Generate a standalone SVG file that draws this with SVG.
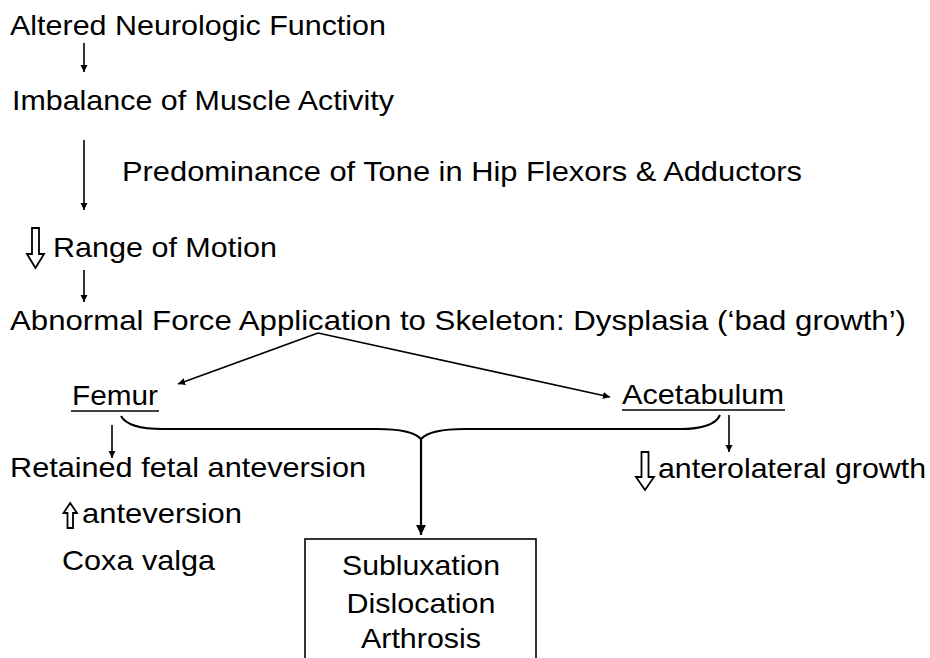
<svg xmlns="http://www.w3.org/2000/svg" width="930" height="658" viewBox="0 0 930 658">
<style>
text{font-family:"Liberation Sans",Arial,sans-serif;font-size:28px;fill:#000}
.c{text-anchor:middle}
.ln{stroke:#000;stroke-width:1.6;fill:none}
.hol{fill:#fff;stroke:#000;stroke-width:1.8;stroke-linejoin:miter}
</style>
<defs>
<marker id="ah" viewBox="0 0 10 10" refX="10" refY="5" markerWidth="4.5" markerHeight="4.5" orient="auto" markerUnits="strokeWidth">
<path d="M0,0 L10,5 L0,10 z" fill="#000"/>
</marker>
</defs>
<rect width="930" height="658" fill="#fff"/>
<g id="n1"><text x="10" y="35" textLength="376" lengthAdjust="spacingAndGlyphs">Altered Neurologic Function</text></g>
<g id="n2"><text x="12" y="110" textLength="382" lengthAdjust="spacingAndGlyphs">Imbalance of Muscle Activity</text></g>
<g id="n3"><text x="122" y="181" textLength="680" lengthAdjust="spacingAndGlyphs">Predominance of Tone in Hip Flexors &amp; Adductors</text></g>
<g id="n4">
<path class="hol" d="M32,228 H39 V254 H44 L35.5,268 L27,254 H32 Z"/>
<text x="53" y="257" textLength="224" lengthAdjust="spacingAndGlyphs">Range of Motion</text>
</g>
<g id="n5"><text x="10" y="330" textLength="896" lengthAdjust="spacingAndGlyphs">Abnormal Force Application to Skeleton: Dysplasia (‘bad growth’)</text></g>
<g id="femur">
<text x="72" y="405" textLength="86" lengthAdjust="spacingAndGlyphs">Femur</text>
<line x1="71" y1="411" x2="159" y2="411" stroke="#000" stroke-width="1.6"/>
</g>
<g id="acetabulum">
<text x="622" y="404" textLength="162" lengthAdjust="spacingAndGlyphs">Acetabulum</text>
<line x1="622" y1="410" x2="785" y2="410" stroke="#000" stroke-width="1.6"/>
</g>
<g id="retained"><text x="10" y="477" textLength="356" lengthAdjust="spacingAndGlyphs">Retained fetal anteversion</text></g>
<g id="anteversion">
<path class="hol" d="M67.5,528 H73 V513 H77 L70.2,503 L63.5,513 H67.5 Z"/>
<text x="82" y="523" textLength="160" lengthAdjust="spacingAndGlyphs">anteversion</text>
</g>
<g id="coxa"><text x="62" y="570" textLength="153" lengthAdjust="spacingAndGlyphs">Coxa valga</text></g>
<g id="anterolateral">
<path class="hol" d="M641.5,452 H648.5 V477 H654 L645,490 L636,477 H641.5 Z"/>
<text x="658" y="478" textLength="268" lengthAdjust="spacingAndGlyphs">anterolateral growth</text>
</g>
<g id="outcome">
<rect x="305" y="539" width="231" height="140" fill="none" stroke="#000" stroke-width="1.6"/>
<text class="c" x="421" y="575" textLength="158" lengthAdjust="spacingAndGlyphs">Subluxation</text>
<text class="c" x="421" y="613" textLength="149" lengthAdjust="spacingAndGlyphs">Dislocation</text>
<text class="c" x="421" y="648" textLength="120" lengthAdjust="spacingAndGlyphs">Arthrosis</text>
</g>
<g id="connectors">
<line class="ln" x1="84" y1="43" x2="84" y2="72" marker-end="url(#ah)"/>
<line class="ln" x1="84" y1="140" x2="84" y2="210" marker-end="url(#ah)"/>
<line class="ln" x1="84" y1="270" x2="84" y2="302" marker-end="url(#ah)"/>
<line class="ln" x1="318" y1="333" x2="178" y2="384" marker-end="url(#ah)"/>
<line class="ln" x1="318" y1="333" x2="610" y2="397" marker-end="url(#ah)"/>
<line class="ln" x1="112" y1="425" x2="112" y2="458" marker-end="url(#ah)"/>
<line class="ln" x1="729" y1="415" x2="729" y2="452" marker-end="url(#ah)"/>
<path d="M121,416 Q128,429 163,429 L377,429 Q412,429 421,439 Q430,429 465,429 L680,429 Q714,429 720,415" fill="none" stroke="#000" stroke-width="2"/>
<line x1="421" y1="439" x2="421" y2="535" stroke="#000" stroke-width="2.2" marker-end="url(#ah)"/>
</g>
</svg>
